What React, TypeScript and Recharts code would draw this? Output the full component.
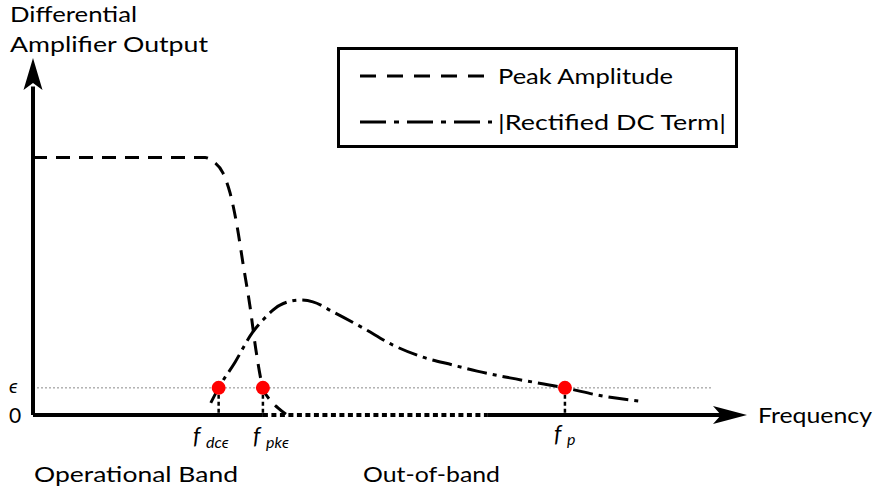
import React from 'react';
import { LineChart, Line, XAxis, YAxis, ReferenceLine, ReferenceDot, Legend } from 'recharts';

// both axes are arbitrary units, 0..100
const peakFreq = [0, 22.0, 24.1, 25.2, 26.6, 27.6, 28.6, 29.4, 30.4, 31.2, 32.2, 33.2, 34.3, 35.6];
const peakAmp = [72.1, 72.1, 72.1, 71.1, 67.8, 62.2, 52.7, 42.6, 30.3, 18.5, 7.6, 4.2, 2.0, 0];

const dcFreq = [24.9, 26.0, 28.3, 30.7, 32.2, 34.6, 37.4, 39.2, 42.0, 46.2, 50.4, 54.6, 58.8, 62.2, 66.8, 74.5, 79.8, 85.0];
const dcTerm = [3.4, 7.6, 14.8, 23.0, 26.6, 30.8, 32.2, 31.7, 28.9, 24.4, 19.6, 16.2, 14.0, 12.3, 10.4, 7.6, 5.3, 3.9];

const EPSILON = 7.6;
const crossFreq = [26.0, 32.2, 74.5];
const outOfBandStart = 32.2;
const outOfBandEnd = 63.7;

const peakData = peakFreq.map((f, i) => ({ f, v: peakAmp[i] }));
const dcData = dcFreq.map((f, i) => ({ f, v: dcTerm[i] }));

const PEAK_DASH = '14 9';
const DC_DASH = '20 6 4 6';
const FONT = 'Lato, sans-serif';
const txt = { fontFamily: FONT };

const legendItems = [
  { name: 'Peak Amplitude', dash: '16 11', width: 175 },
  { name: '|Rectified DC Term|', dash: '26 8 5 8', width: 228 },
];

function LegendBox() {
  return (
    <div
      style={{
        width: 401,
        height: 101,
        boxSizing: 'border-box',
        border: '3.5px solid #000',
        background: '#fff',
      }}
    >
      <svg width={394} height={94} style={{ display: 'block' }}>
        {legendItems.map((item, i) => (
          <g key={item.name}>
            <line
              x1={20}
              x2={152}
              y1={26 + i * 46}
              y2={26 + i * 46}
              stroke="#000"
              strokeWidth={3.2}
              strokeDasharray={item.dash}
            />
            <text x={158} y={34 + i * 46} fontSize={21} fill="#000" style={txt}
              textLength={item.width} lengthAdjust="spacingAndGlyphs">
              {item.name}
            </text>
          </g>
        ))}
      </svg>
    </div>
  );
}

const xArrow = (p: any) => (
  <path d={`M${p.cx},${p.cy} L${p.cx - 34},${p.cy - 9} L${p.cx - 26},${p.cy} L${p.cx - 34},${p.cy + 9} Z`} fill="#000" />
);
const yArrow = (p: any) => (
  <path d={`M${p.cx},${p.cy} L${p.cx - 9.5},${p.cy + 32} L${p.cx},${p.cy + 25} L${p.cx + 9.5},${p.cy + 32} Z`} fill="#000" />
);
const redDot = (p: any) => <circle cx={p.cx} cy={p.cy} r={7} fill="#ff0000" />;

export default function App() {
  return (
    <div style={{ position: 'absolute', left: 0, top: 0, width: 877, height: 498, background: '#fff' }}>
      <LineChart width={877} height={498} margin={{ top: 58, right: 130, bottom: 83, left: 33 }}>
        <XAxis type="number" dataKey="f" domain={[0, 100]} hide allowDataOverflow />
        <YAxis type="number" domain={[0, 100]} hide allowDataOverflow />

        {/* epsilon threshold */}
        <ReferenceLine
          segment={[{ x: 0, y: EPSILON }, { x: 95.2, y: EPSILON }]}
          stroke="#8a8a8a"
          strokeWidth={1}
          strokeDasharray="2 2"
          ifOverflow="visible"
        />

        {/* axes */}
        <ReferenceLine segment={[{ x: 0, y: 0 }, { x: 0, y: 92 }]} stroke="#000" strokeWidth={4} ifOverflow="visible" />
        <ReferenceLine segment={[{ x: 0, y: 0 }, { x: outOfBandStart, y: 0 }]} stroke="#000" strokeWidth={4} ifOverflow="visible" />
        <ReferenceLine segment={[{ x: outOfBandStart, y: 0 }, { x: outOfBandEnd, y: 0 }]} stroke="#000" strokeWidth={4} strokeDasharray="5 3.5" ifOverflow="visible" />
        <ReferenceLine segment={[{ x: outOfBandEnd, y: 0 }, { x: 97, y: 0 }]} stroke="#000" strokeWidth={4} ifOverflow="visible" />
        <ReferenceDot x={100} y={0} shape={xArrow} ifOverflow="visible" />
        <ReferenceDot x={0} y={100} shape={yArrow} ifOverflow="visible" />

        {/* drops from the crossing points */}
        {crossFreq.map((f) => (
          <ReferenceLine
            key={'drop' + f}
            segment={[{ x: f, y: EPSILON }, { x: f, y: 0 }]}
            stroke="#000"
            strokeWidth={2.5}
            strokeDasharray="4 3"
            ifOverflow="visible"
          />
        ))}

        <Line
          data={peakData}
          dataKey="v"
          name="Peak Amplitude"
          type="monotone"
          stroke="#000"
          strokeWidth={3}
          strokeDasharray={PEAK_DASH}
          dot={false}
          isAnimationActive={false}
        />
        <Line
          data={dcData}
          dataKey="v"
          name="|Rectified DC Term|"
          type="monotone"
          stroke="#000"
          strokeWidth={3}
          strokeDasharray={DC_DASH}
          dot={false}
          isAnimationActive={false}
        />

        {crossFreq.map((f) => (
          <ReferenceDot key={'dot' + f} x={f} y={EPSILON} shape={redDot} ifOverflow="visible" />
        ))}

        <Legend
          layout="horizontal"
          verticalAlign="middle"
          align="center"
          wrapperStyle={{ left: 337, top: 47, width: 401, height: 101 }}
          content={() => <LegendBox />}
        />
      </LineChart>

      <svg
        width={877}
        height={498}
        style={{ position: 'absolute', left: 0, top: 0, pointerEvents: 'none', fontFamily: FONT }}
        fill="#000"
      >
        <text x={10} y={22} fontSize={21} style={txt} textLength={127} lengthAdjust="spacingAndGlyphs">Differential</text>
        <text x={10} y={52} fontSize={21} style={txt} textLength={198} lengthAdjust="spacingAndGlyphs">Amplifier Output</text>
        <text x={9} y={393} fontSize={20} style={txt} fontStyle="italic">ϵ</text>
        <text x={9} y={423} fontSize={21} style={txt}>0</text>
        <text x={758} y={423} fontSize={21} style={txt} textLength={114} lengthAdjust="spacingAndGlyphs">Frequency</text>

        <text x={193} y={444} fontSize={23} style={txt} fontStyle="italic">
          f<tspan x={206} dy={4} fontSize={16}>dcϵ</tspan>
        </text>
        <text x={253} y={444} fontSize={23} style={txt} fontStyle="italic">
          f<tspan x={266} dy={4} fontSize={16}>pkϵ</tspan>
        </text>
        <text x={554} y={442} fontSize={23} style={txt} fontStyle="italic">
          f<tspan x={567} dy={3} fontSize={16}>p</tspan>
        </text>

        <text x={34} y={482} fontSize={21} style={txt} textLength={204} lengthAdjust="spacingAndGlyphs">Operational Band</text>
        <text x={363} y={482} fontSize={21} style={txt} textLength={137} lengthAdjust="spacingAndGlyphs">Out-of-band</text>
      </svg>
    </div>
  );
}
